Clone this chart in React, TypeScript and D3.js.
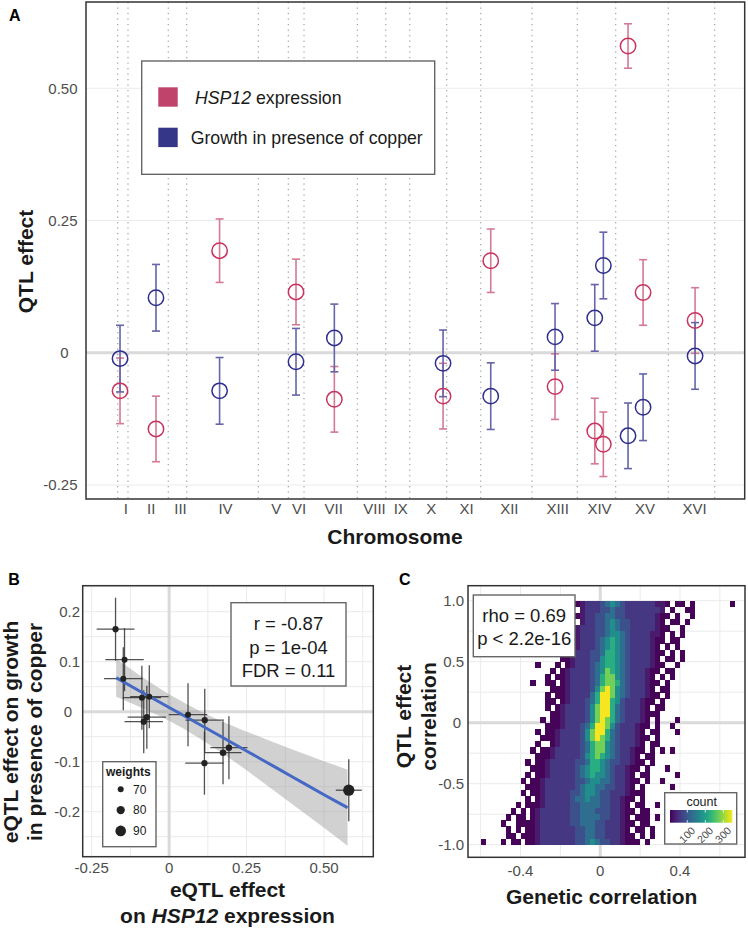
import React from 'react';
import * as d3 from 'd3';

const FONT = '"Liberation Sans", Arial, Helvetica, sans-serif';

// ---- panel A: chromosomes and QTLs ----
const chromNames = ['I', 'II', 'III', 'IV', 'V', 'VI', 'VII', 'VIII', 'IX', 'X', 'XI', 'XII', 'XIII', 'XIV', 'XV', 'XVI'];
const chromLengthsKb = [208, 815, 372, 1448, 607, 317, 1078, 574, 485, 748, 687, 1037, 916, 776, 1064, 938];

const qtlChrom = ['I', 'II', 'IV', 'VI', 'VII', 'X', 'XII', 'XIII', 'XIV', 'XIV', 'XV', 'XV', 'XVI'];
const qtlPosKb = [47, 566, 665, 155, 613, 674, 203, 466, 353, 527, 250, 554, 541];
const hsp12Effect = [-0.072, -0.144, 0.193, 0.115, -0.088, -0.082, 0.174, -0.064, -0.148, -0.173, 0.58, 0.114, 0.061];
const hsp12Err = [0.062, 0.062, 0.06, 0.062, 0.062, 0.062, 0.06, 0.062, 0.062, 0.061, 0.042, 0.062, 0.062];
const growthEffect = [-0.011, 0.104, -0.072, -0.017, 0.028, -0.02, -0.082, 0.03, 0.066, 0.165, -0.157, -0.103, -0.006];
const growthErr = [0.063, 0.063, 0.063, 0.063, 0.064, 0.063, 0.063, 0.063, 0.063, 0.063, 0.062, 0.063, 0.063];
const qtlWeights = [71, 70, 72, 71, 70, 71, 72, 70, 70, 71, 93, 71, 70];

const aTicksY = [-0.25, 0, 0.25, 0.5];

// ---- panel B: weighted fit ----
const smoothX = [-0.171, -0.1, 0, 0.1, 0.2, 0.3, 0.4, 0.5, 0.576];
const smoothFit = [0.068, 0.043, 0.0085, -0.026, -0.061, -0.096, -0.131, -0.166, -0.192];
const smoothLo = [0.03, 0.011, -0.018, -0.054, -0.095, -0.14, -0.186, -0.232, -0.268];
const smoothHi = [0.106, 0.075, 0.035, 0.001, -0.027, -0.052, -0.076, -0.099, -0.116];
const bTicksX = [-0.25, 0, 0.25, 0.5];
const bTicksY = [-0.2, -0.1, 0, 0.1, 0.2];
const bGridX = [-0.25, -0.125, 0.125, 0.25, 0.375, 0.5, 0.625];
const bGridY = [-0.25, -0.2, -0.15, -0.1, -0.05, 0.05, 0.1, 0.15, 0.2, 0.25];
const weightLegend = [70, 80, 90];

// ---- panel C: 2d histogram, rows from y=1 downwards (0.05 high), columns from x=-0.625 (0.025 wide)
// each row: [first column, levels] ; '.' = empty cell
const heatRows: [number, string][] = [
  [20, '1233345654333333221.11.1.......1'],
  [20, '.23334454433333332.1..11'],
  [20, '1233445544333333211.1..1'],
  [21, '23344565443333321.11.1'],
  [19, '12333445654433333211..1'],
  [19, '.233344566543333221.1.1'],
  [19, '1233345676543333211.11'],
  [18, '1123334567654333321.1.1'],
  [18, '12333445776543333211.1.1'],
  [17, '11233344677654333321.11.1'],
  [12, '1...1.12333456776543333211..1'],
  [15, '1.12333345687654333211.11'],
  [14, '1.11233334578865433321.1.1'],
  [11, '1..11.12333345788754333211.1'],
  [14, '.111233334689865433321.11'],
  [14, '1.112333357998654333211.1'],
  [14, '11.1233345799764333211.1'],
  [14, '1.1233334689975433321.11'],
  [14, '.1123333468997543332111'],
  [13, '1.11233334689875433321.1...1'],
  [13, '.111233345799864333211.1..1'],
  [12, '1.11233334689975433321.11...1'],
  [12, '.1112333346898754333211.1'],
  [12, '1..1233334578865433321.11'],
  [11, '1.112333334578865433211.1.1.1'],
  [11, '.111233333467876543321.11'],
  [10, '1.1123333344577654433211.1'],
  [10, '.1112333334567765433211.1...1'],
  [10, '1.11233333456766543321.11.....1'],
  [9, '1.1123333334456655433211.1..1'],
  [9, '.1112333333456655443321.1.....1'],
  [9, '1.11233333445665443332111'],
  [9, '.1.12333334556554433211.1'],
  [8, '1.111233333445555443321.11..1'],
  [7, '1.1.123333334455544433211.11'],
  [6, '1.11.12333333445555443321.111.1'],
  [5, '1..111123333334455544333211.11'],
  [5, '.1.1.112333333344554433321.11.1'],
  [6, '11.11123333333445544333211.1.1'],
  [1, '1...1.11.11233333334456544332111.1'],
];
const heatLevelCounts = [0, 3, 25, 55, 85, 125, 170, 220, 275, 345];
const cTicksX = [-0.4, 0, 0.4];
const cTicksY = [-1, -0.5, 0, 0.5, 1];
const cGridX = [-0.6, -0.4, -0.2, 0.2, 0.4, 0.6];
const cGridY = [-1, -0.75, -0.5, -0.25, 0.25, 0.5, 0.75, 1];
const countTicks = [100, 200, 300];

const RED = '#c8335e';
const RED_BAR = '#d47a93';
const BLUE = '#2e2e8e';
const BLUE_BAR = '#6565a8';
const GRID = '#ebebeb';
const ZERO = '#dadada';
const TICK_TXT = '#4d4d4d';

const fmt = (d: number, digits: number) => (d === 0 ? '0' : d.toFixed(digits));

const App: React.FC = () => {
  // ---------- panel A ----------
  const A = { l: 86, r: 744.7, t: 2, b: 499 };
  const G = d3.sum(chromLengthsKb);
  const chromStarts = chromLengthsKb.map((_, i) => d3.sum(chromLengthsKb.slice(0, i)));
  const xA = d3.scaleLinear().domain([0, G]).range([117.7, 714.7]);
  const yA = d3.scaleLinear().domain([-0.25, 0.5]).range([485, 88.3]);
  const qtlX = qtlChrom.map((c, i) => xA(chromStarts[chromNames.indexOf(c)] + qtlPosKb[i]));
  const bounds = [...chromStarts, G];

  const series = [
    { eff: hsp12Effect, err: hsp12Err, col: RED, bar: RED_BAR },
    { eff: growthEffect, err: growthErr, col: BLUE, bar: BLUE_BAR },
  ];

  // ---------- panel B ----------
  const B = { l: 82.7, r: 373.3, t: 585.7, b: 856.7 };
  const xB = d3.scaleLinear().domain([-0.25, 0.5]).range([91.7, 324]);
  const yB = d3.scaleLinear().domain([-0.2, 0.2]).range([811.7, 611.7]);
  const rW = d3.scaleLinear().domain([70, 90]).range([3, 5.3]);
  const band = d3.area<number>()
    .x((_, i) => xB(smoothX[i]))
    .y0((_, i) => yB(smoothLo[i]))
    .y1((_, i) => yB(smoothHi[i]))
    .curve(d3.curveMonotoneX);
  const fitLine = d3.line<number>()
    .x((_, i) => xB(smoothX[i]))
    .y((d) => yB(d))
    .curve(d3.curveMonotoneX);

  // ---------- panel C ----------
  const C = { l: 468, r: 745, t: 585.7, b: 857.3 };
  const xC = d3.scaleLinear().domain([-0.4, 0.4]).range([520.5, 680]);
  const yC = d3.scaleLinear().domain([-1, 1]).range([844.7, 600.7]);
  const color = (c: number) => d3.interpolateViridis(Math.min(1, c / 350));
  const cells: { x: number; y: number; w: number; h: number; f: string }[] = [];
  heatRows.forEach(([start, s], j) => {
    const yTop = 1 - 0.05 * j;
    for (let k = 0; k < s.length; k++) {
      const ch = s[k];
      if (ch === '.') continue;
      const col = start + k;
      const x0 = -0.625 + 0.025 * col;
      const px0 = xC(x0);
      const py0 = yC(yTop);
      cells.push({
        x: px0,
        y: py0,
        w: xC(x0 + 0.025) - px0 + 0.3,
        h: yC(yTop - 0.05) - py0 + 0.3,
        f: color(heatLevelCounts[+ch]),
      });
    }
  });
  const legBar = { x0: 670, x1: 732.3, y0: 810, y1: 822.7 };
  const xLeg = d3.scaleLinear().domain([4, 350]).range([legBar.x0, legBar.x1]);
  const gradStops = d3.range(0, 1.0001, 0.1);

  return (
    <div style={{ position: 'absolute', left: 0, top: 0 }}>
      <svg width={748} height={928} viewBox="0 0 748 928" style={{ display: 'block', fontFamily: FONT }}>
        <rect width={748} height={928} fill="#fff" />
        <defs>
          <linearGradient id="viridis-bar" x1="0%" x2="100%" y1="0%" y2="0%">
            {gradStops.map((t) => (
              <stop key={t} offset={`${t * 100}%`} stopColor={d3.interpolateViridis(t * 0.99)} />
            ))}
          </linearGradient>
        </defs>

        {/* ===================== A ===================== */}
        <text x={9} y={20.7} fontSize={16} fontWeight="bold" fill="#000">A</text>
        {aTicksY.map((t) => (
          <line key={t} x1={A.l} x2={A.r} y1={yA(t)} y2={yA(t)}
            stroke={t === 0 ? ZERO : GRID} strokeWidth={t === 0 ? 3 : 1} />
        ))}
        {bounds.map((b, i) => (
          <line key={i} x1={xA(b)} x2={xA(b)} y1={A.t} y2={A.b}
            stroke="#a8a8a8" strokeWidth={1.3} strokeDasharray="1.3 4.2" />
        ))}
        {series.map((s, si) => (
          <g key={si}>
            {s.eff.map((e, i) => {
              const x = qtlX[i];
              const y0 = yA(e - s.err[i]);
              const y1 = yA(e + s.err[i]);
              return (
                <g key={i} stroke={s.bar} strokeWidth={1.6} fill="none">
                  <line x1={x} x2={x} y1={y0} y2={y1} />
                  <line x1={x - 4} x2={x + 4} y1={y0} y2={y0} />
                  <line x1={x - 4} x2={x + 4} y1={y1} y2={y1} />
                </g>
              );
            })}
          </g>
        ))}
        {series.map((s, si) => (
          <g key={si}>
            {s.eff.map((e, i) => (
              <circle key={i} cx={qtlX[i]} cy={yA(e)} r={7.7} fill="none" stroke={s.col} strokeWidth={1.5} />
            ))}
          </g>
        ))}
        <rect x={A.l} y={A.t} width={A.r - A.l} height={A.b - A.t} fill="none" stroke="#333" strokeWidth={1.5} />
        {aTicksY.map((t) => (
          <text key={t} x={77.5} dx={t === 0 ? -9 : 0} y={yA(t) + 5.4} textAnchor="end" fontSize={15} fill={TICK_TXT}>
            {fmt(t, 2)}
          </text>
        ))}
        {chromNames.map((c, i) => (
          <text key={c} x={xA(chromStarts[i] + chromLengthsKb[i] / 2) + 3} y={514} textAnchor="middle" fontSize={15} fill={TICK_TXT}>
            {c}
          </text>
        ))}
        <text x={395} y={544} textAnchor="middle" fontSize={21} fontWeight="bold" fill="#1a1a1a">Chromosome</text>
        <text transform="translate(33,261.5) rotate(-90)" textAnchor="middle" fontSize={21} fontWeight="bold" fill="#1a1a1a">
          QTL effect
        </text>
        {/* legend */}
        <rect x={141.7} y={61} width={293} height={113.3} fill="#fff" stroke="#666" strokeWidth={1.4} />
        <rect x={158.3} y={87.3} width={19.4} height={19.4} fill="#c0436b" />
        <rect x={158.3} y={127.7} width={19.4} height={19.4} fill="#363689" />
        <text x={195} y={103.7} fontSize={17.7} fill="#1a1a1a">
          <tspan fontStyle="italic">HSP12</tspan> expression
        </text>
        <text x={190.7} y={144} fontSize={17.7} fill="#1a1a1a">Growth in presence of copper</text>

        {/* ===================== B ===================== */}
        <text x={8.3} y={585} fontSize={16} fontWeight="bold" fill="#000">B</text>
        {bGridX.map((t) => (
          <line key={t} x1={xB(t)} x2={xB(t)} y1={B.t} y2={B.b} stroke={GRID} strokeWidth={1} />
        ))}
        {bGridY.map((t) => (
          <line key={t} x1={B.l} x2={B.r} y1={yB(t)} y2={yB(t)} stroke={GRID} strokeWidth={1} />
        ))}
        <line x1={xB(0)} x2={xB(0)} y1={B.t} y2={B.b} stroke={ZERO} strokeWidth={3} />
        <line x1={B.l} x2={B.r} y1={yB(0)} y2={yB(0)} stroke={ZERO} strokeWidth={3} />
        <path d={band(smoothX) || ''} fill="#999" fillOpacity={0.45} />
        {hsp12Effect.map((hx, i) => {
          const gy = growthEffect[i];
          return (
            <g key={i} stroke="#333" strokeWidth={1.3} strokeOpacity={0.85}>
              <line x1={xB(hx - hsp12Err[i])} x2={xB(hx + hsp12Err[i])} y1={yB(gy)} y2={yB(gy)} />
              <line x1={xB(hx)} x2={xB(hx)} y1={yB(gy - growthErr[i])} y2={yB(gy + growthErr[i])} />
            </g>
          );
        })}
        <path d={fitLine(smoothFit) || ''} fill="none" stroke="#4468c4" strokeWidth={3} />
        {hsp12Effect.map((hx, i) => (
          <circle key={i} cx={xB(hx)} cy={yB(growthEffect[i])} r={rW(qtlWeights[i])} fill="#222" />
        ))}
        <rect x={B.l} y={B.t} width={B.r - B.l} height={B.b - B.t} fill="none" stroke="#333" strokeWidth={1.5} />
        {bTicksY.map((t) => (
          <text key={t} x={80} dx={t === 0 ? -8 : 0} y={yB(t) + 5.4} textAnchor="end" fontSize={15} fill={TICK_TXT}>
            {fmt(t, 1)}
          </text>
        ))}
        {bTicksX.map((t) => (
          <text key={t} x={xB(t)} y={872.7} textAnchor="middle" fontSize={15} fill={TICK_TXT}>
            {fmt(t, 2)}
          </text>
        ))}
        <text transform="translate(18,732) rotate(-90)" textAnchor="middle" fontSize={21} fontWeight="bold" fill="#1a1a1a">
          eQTL effect on growth
        </text>
        <text transform="translate(41.5,732) rotate(-90)" textAnchor="middle" fontSize={21} fontWeight="bold" fill="#1a1a1a">
          in presence of copper
        </text>
        <text x={227.5} y={896.7} textAnchor="middle" fontSize={21} fontWeight="bold" fill="#1a1a1a">eQTL effect</text>
        <text x={227.5} y={923} textAnchor="middle" fontSize={21} fontWeight="bold" fill="#1a1a1a">
          on <tspan fontStyle="italic">HSP12</tspan> expression
        </text>
        {/* stats box */}
        <rect x={231} y={602.7} width={115} height={83.3} fill="#fff" stroke="#666" strokeWidth={1.4} />
        <text x={288.5} y={630} textAnchor="middle" fontSize={18.5} fill="#1a1a1a">r = -0.87</text>
        <text x={288.5} y={653.5} textAnchor="middle" fontSize={18.5} fill="#1a1a1a">p = 1e-04</text>
        <text x={288.5} y={676.7} textAnchor="middle" fontSize={18.5} fill="#1a1a1a">FDR = 0.11</text>
        {/* weights legend */}
        <rect x={102.7} y={761.7} width={53.3} height={85} fill="#fff" stroke="#666" strokeWidth={1.4} />
        <text x={128.3} y={776} textAnchor="middle" fontSize={12} fontWeight="bold" fill="#1a1a1a">weights</text>
        {weightLegend.map((w, i) => (
          <g key={w}>
            <circle cx={120.7} cy={789.3 + i * 20.8} r={rW(w)} fill="#222" />
            <text x={133} y={789.3 + i * 20.8 + 4.3} fontSize={12} fill="#1a1a1a">{w}</text>
          </g>
        ))}

        {/* ===================== C ===================== */}
        <text x={399} y={585} fontSize={16} fontWeight="bold" fill="#000">C</text>
        {cGridX.map((t) => (
          <line key={t} x1={xC(t)} x2={xC(t)} y1={C.t} y2={C.b} stroke={GRID} strokeWidth={1} />
        ))}
        {cGridY.map((t) => (
          <line key={t} x1={C.l} x2={C.r} y1={yC(t)} y2={yC(t)} stroke={GRID} strokeWidth={1} />
        ))}
        <line x1={xC(0)} x2={xC(0)} y1={C.t} y2={C.b} stroke={ZERO} strokeWidth={3} />
        <line x1={C.l} x2={C.r} y1={yC(0)} y2={yC(0)} stroke={ZERO} strokeWidth={3} />
        <g shapeRendering="crispEdges">
          {cells.map((c, i) => (
            <rect key={i} x={c.x} y={c.y} width={c.w} height={c.h} fill={c.f} />
          ))}
        </g>
        <rect x={C.l} y={C.t} width={C.r - C.l} height={C.b - C.t} fill="none" stroke="#333" strokeWidth={1.5} />
        {cTicksY.map((t) => (
          <text key={t} x={464} dx={t === 0 ? -3 : 0} y={yC(t) + 5.4} textAnchor="end" fontSize={15} fill={TICK_TXT}>
            {fmt(t, 1)}
          </text>
        ))}
        {cTicksX.map((t) => (
          <text key={t} x={xC(t)} y={876} textAnchor="middle" fontSize={15} fill={TICK_TXT}>
            {fmt(t, 1)}
          </text>
        ))}
        <text transform="translate(410.7,716.5) rotate(-90)" textAnchor="middle" fontSize={21} fontWeight="bold" fill="#1a1a1a">
          QTL effect
        </text>
        <text transform="translate(435.7,716.5) rotate(-90)" textAnchor="middle" fontSize={21} fontWeight="bold" fill="#1a1a1a">
          correlation
        </text>
        <text x={601.7} y={903.5} textAnchor="middle" fontSize={21} fontWeight="bold" fill="#1a1a1a">Genetic correlation</text>
        {/* stats box */}
        <rect x={473.3} y={595} width={101.7} height={61.7} fill="#fff" stroke="#666" strokeWidth={1.4} />
        <text x={524.2} y={621.7} textAnchor="middle" fontSize={18.5} fill="#1a1a1a">rho = 0.69</text>
        <text x={524.2} y={645} textAnchor="middle" fontSize={18.5} fill="#1a1a1a">p &lt; 2.2e-16</text>
        {/* count legend */}
        <rect x={664.7} y={792.7} width={72} height={51.3} fill="#fff" stroke="#666" strokeWidth={1.4} />
        <text x={701.7} y={806} textAnchor="middle" fontSize={12.5} fill="#1a1a1a">count</text>
        <rect x={legBar.x0} y={legBar.y0} width={legBar.x1 - legBar.x0} height={legBar.y1 - legBar.y0} fill="url(#viridis-bar)" />
        {countTicks.map((t) => (
          <g key={t}>
            <line x1={xLeg(t)} x2={xLeg(t)} y1={legBar.y0} y2={legBar.y0 + 2.5} stroke="#fff" strokeWidth={0.8} />
            <line x1={xLeg(t)} x2={xLeg(t)} y1={legBar.y1 - 2.5} y2={legBar.y1} stroke="#fff" strokeWidth={0.8} />
            <text transform={`translate(${xLeg(t) + 3},${legBar.y1 + 3}) rotate(-45)`} textAnchor="end" fontSize={10.5} fill={TICK_TXT}
              dominantBaseline="hanging">
              {t}
            </text>
          </g>
        ))}
      </svg>
    </div>
  );
};

export default App;
